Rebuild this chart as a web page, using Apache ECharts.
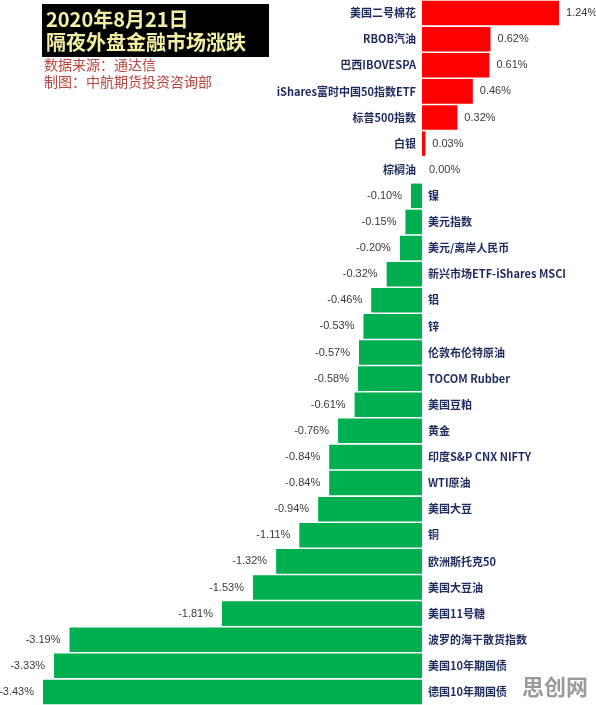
<!DOCTYPE html>
<html>
<head>
<meta charset="utf-8">
<script src="https://cdn.jsdelivr.net/npm/echarts@6/dist/echarts.min.js"></script>
<style>
  html, body { margin: 0; padding: 0; background: #fff; }
  #main { width: 596px; height: 705px; }
</style>
</head>
<body>
<div id="main"></div>
<script>
// 品种与涨跌幅（%）
var names = ["美国二号棉花", "RBOB汽油", "巴西IBOVESPA", "iShares富时中国50指数ETF", "标普500指数",
  "白银", "棕榈油", "镍", "美元指数", "美元/离岸人民币", "新兴市场ETF-iShares MSCI", "铝", "锌",
  "伦敦布伦特原油", "TOCOM Rubber", "美国豆粕", "黄金", "印度S&P CNX NIFTY", "WTI原油", "美国大豆",
  "铜", "欧洲斯托克50", "美国大豆油", "美国11号糖", "波罗的海干散货指数", "美国10年期国债", "德国10年期国债"];
var changes = [1.24, 0.62, 0.61, 0.46, 0.32, 0.03, 0.00, -0.10, -0.15, -0.20, -0.32, -0.46, -0.53,
  -0.57, -0.58, -0.61, -0.76, -0.84, -0.84, -0.94, -1.11, -1.32, -1.53, -1.81, -3.19, -3.33, -3.43];
var titleLines = ["2020年8月21日", "隔夜外盘金融市场涨跌"];
var noteLines = ["数据来源：通达信", "制图：中航期货投资咨询部"];

var chart = echarts.init(document.getElementById("main"));

var barData = changes.map(function (v) {
  return {
    value: v,
    itemStyle: {color: v >= 0 ? "#fe0000" : "#00b050"},
    label: {position: v >= 0 ? "right" : "left", distance: v >= 0 ? 7 : 9}
  };
});
var nameData = changes.map(function (v) {
  return {value: 0, label: {position: v >= 0 ? "left" : "right"}};
});

chart.setOption({
  animation: false,
  grid: {left: 35.25, width: 552.5, top: 0, height: 705},
  xAxis: {type: "value", min: -3.5, max: 1.5, show: false},
  yAxis: {type: "category", data: names, inverse: true, show: false},
  graphic: [
    {type: "rect", shape: {x: 42, y: 4, width: 227, height: 53}, style: {fill: "#000"}},
    {type: "text", left: 46, top: 9, style: {text: titleLines[0], fill: "#f2eea4",
      font: "bold 20px 'Noto Sans CJK SC'"}},
    {type: "text", left: 46, top: 32, style: {text: titleLines[1], fill: "#f2eea4",
      font: "bold 20px 'Noto Sans CJK SC'"}},
    {type: "text", left: 44, top: 58, style: {text: noteLines[0], fill: "#b8453e",
      font: "14px 'Noto Sans CJK SC'"}},
    {type: "text", left: 44, top: 75, style: {text: noteLines[1], fill: "#b8453e",
      font: "14px 'Noto Sans CJK SC'"}},
    {type: "text", right: 8, top: 676, style: {text: "思创网", fill: "rgba(120,120,120,0.75)",
      font: "bold 22px 'Noto Sans CJK SC'"}}
  ],
  series: [
    {
      type: "bar", data: barData, barCategoryGap: "6%",
      label: {show: true, color: "#3a3a3a", fontSize: 11, fontFamily: "Arial",
        formatter: function (p) { return p.value.toFixed(2) + "%"; }}
    },
    {
      type: "bar", data: nameData, barGap: "-100%", barCategoryGap: "6%", silent: true,
      label: {show: true, distance: 6, color: "#1d2b5e", fontSize: 11, fontWeight: "bold",
        fontFamily: "'Noto Sans CJK SC'", formatter: function (p) { return p.name; }}
    }
  ]
});
</script>
</body>
</html>
